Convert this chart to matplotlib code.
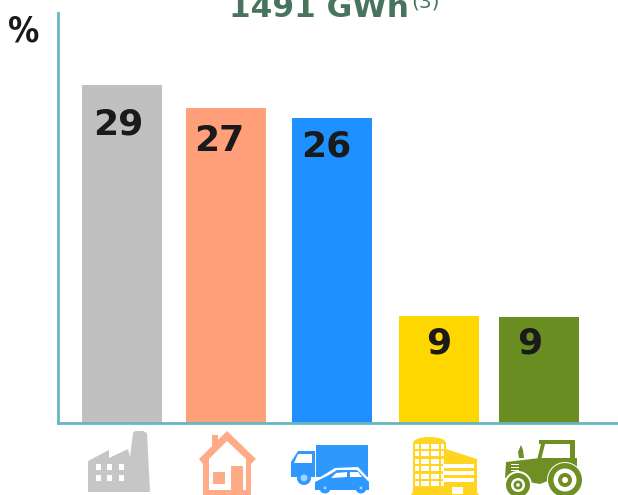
import matplotlib
matplotlib.use('Agg')
import matplotlib.pyplot as plt
from matplotlib.patches import Polygon, Rectangle, Circle, Ellipse

W, H = 618, 495

categories = ['industry', 'residential', 'transport', 'tertiary', 'agriculture']
values = [29, 27, 26.2, 9.2, 9.1]
value_labels = ['29', '27', '26', '9', '9']
title = '1491 GWh'
title_note = '(3)'
unit = '%'

bar_x = [64, 168, 274, 381, 481]
label_x = [60, 161, 268, 381, 472]
label_y = [25.6, 24.2, 23.7, 6.8, 6.8]
bar_colors = ['#c0c0c0', '#ffa07a', '#1e90ff', '#ffd700', '#6b8e23']
axis_color = '#66b5c1'
title_color = '#47735f'
text_color = '#1a1a1a'

fig = plt.figure(figsize=(W / 100, H / 100), dpi=100)
ax = fig.add_axes([58 / W, 1 - 423 / H, 560 / W, 410 / H])
ax.bar(bar_x, values, width=80, color=bar_colors)
ax.set_xlim(0, 560)
ax.set_ylim(0, 410 / 11.66)
ax.set_xticks([])
ax.set_yticks([])
for s in ['top', 'right']:
    ax.spines[s].set_visible(False)
for s in ['left', 'bottom']:
    ax.spines[s].set_color(axis_color)
    ax.spines[s].set_linewidth(2)

for x, y, t in zip(label_x, label_y, value_labels):
    ax.text(x, y, t, fontsize=26, fontweight='bold', color=text_color, ha='center', va='center')

# overlay in pixel coordinates for the title and the icons
ov = fig.add_axes([0, 0, 1, 1])
ov.set_xlim(0, W)
ov.set_ylim(H, 0)
ov.axis('off')
ov.patch.set_alpha(0)

ov.text(229, 17, title, fontsize=22.5, fontweight='bold', color=title_color, va='baseline')
ov.text(411, 8, title_note, fontsize=14.5, color=title_color, va='baseline')
ov.text(24, 41, unit, fontsize=25, fontweight='bold', color=text_color, ha='center', va='baseline',
        fontstretch='condensed')


def poly(pts, c, z=2):
    ov.add_patch(Polygon(pts, closed=True, fc=c, ec='none', zorder=z))


def rect(x0, y0, x1, y1, c, z=3):
    ov.add_patch(Rectangle((x0, y0), x1 - x0, y1 - y0, fc=c, ec='none', zorder=z))


def circ(x, y, r, c, z=3):
    ov.add_patch(Circle((x, y), r, fc=c, ec='none', zorder=z))


# factory
c = '#c6c6c6'
poly([(88, 461), (109, 450), (109, 458), (128, 449), (130, 457), (133, 433), (135, 431),
      (143, 431), (147, 433), (150, 492), (88, 492)], c)
for x0 in [96, 107, 119]:
    for y0 in [464, 475]:
        rect(x0, y0, x0 + 5, y0 + 6, 'white')

# house
c = '#ffab88'
rect(212, 435, 218, 448, c)
poly([(227, 431), (256, 459), (251, 464), (251, 495), (203, 495), (203, 464), (199, 459)], c)
poly([(227, 441), (246, 459), (246, 490), (209, 490), (209, 459)], 'white', 3)
rect(231, 466, 243, 490, c, 4)
rect(213, 472, 225, 484, c, 4)

# truck and car
c = '#2f98ff'
rect(316, 445, 368, 477, c)
poly([(298, 451), (315, 451), (315, 477), (291, 477), (291, 462)], c)
poly([(298, 454), (312, 454), (312, 463), (294, 463)], 'white', 4)
circ(304, 478, 7, c, 4)
circ(304, 478, 3.5, '#9fd0ff', 5)
poly([(312, 482), (327, 473), (335, 468), (358, 467), (370, 480), (370, 491), (314, 491)], 'white', 5)
poly([(315, 482), (329, 475), (337, 470), (357, 470), (369, 482), (369, 490), (315, 490)], c, 6)
poly([(336, 473), (347, 472), (347, 477), (331, 478)], 'white', 7)
poly([(350, 472), (358, 472), (362, 477), (350, 477)], 'white', 7)
circ(325, 488, 5.5, c, 7)
circ(325, 488, 1.5, '#9fd0ff', 8)
circ(361, 488, 5.5, c, 7)
circ(361, 488, 1.5, '#9fd0ff', 8)

# office building
c = '#ffd51f'
ov.add_patch(Ellipse((429.5, 443), 33, 12, fc=c, ec='none', zorder=2))
rect(413, 443, 446, 493, c, 2)
poly([(446, 449), (477, 459), (477, 493), (446, 493)], c)
poly([(411, 495), (413, 492), (477, 492), (479, 495)], c)
for x0, x1 in [(415, 419), (421, 429), (431, 439), (441, 444)]:
    for y0 in [444, 451, 459, 466, 474, 481]:
        rect(x0, y0, x1, y0 + 4.5, 'white')
for y0 in [464, 471, 478]:
    rect(443, y0, 474, y0 + 4, 'white')
rect(452, 487, 463, 494, 'white')

# tractor
c = '#6f8f25'
poly([(506, 462), (540, 458), (577, 458), (577, 470), (555, 478), (540, 484), (505, 478)], c)
rect(539, 440, 575, 444, c)
poly([(541, 444), (545, 444), (541, 460), (537, 460)], c)
rect(570, 444, 575, 464, c)
poly([(521, 445), (523, 450), (524, 458), (519, 458), (518, 452)], c)
for y0 in [463.5, 466.5, 469.5]:
    rect(511, y0, 519, y0 + 1.2, 'white')
circ(565, 480, 18, 'white', 3)
circ(565, 480, 17, c, 4)
circ(565, 480, 11.5, 'white', 5)
circ(565, 480, 7, c, 6)
circ(565, 480, 3, 'white', 7)
circ(518, 485, 14, 'white', 3)
circ(518, 485, 12, c, 4)
circ(518, 485, 7, 'white', 5)
circ(518, 485, 4.5, c, 6)
circ(518, 485, 1.8, 'white', 7)

fig.savefig('out.png', dpi=100)
